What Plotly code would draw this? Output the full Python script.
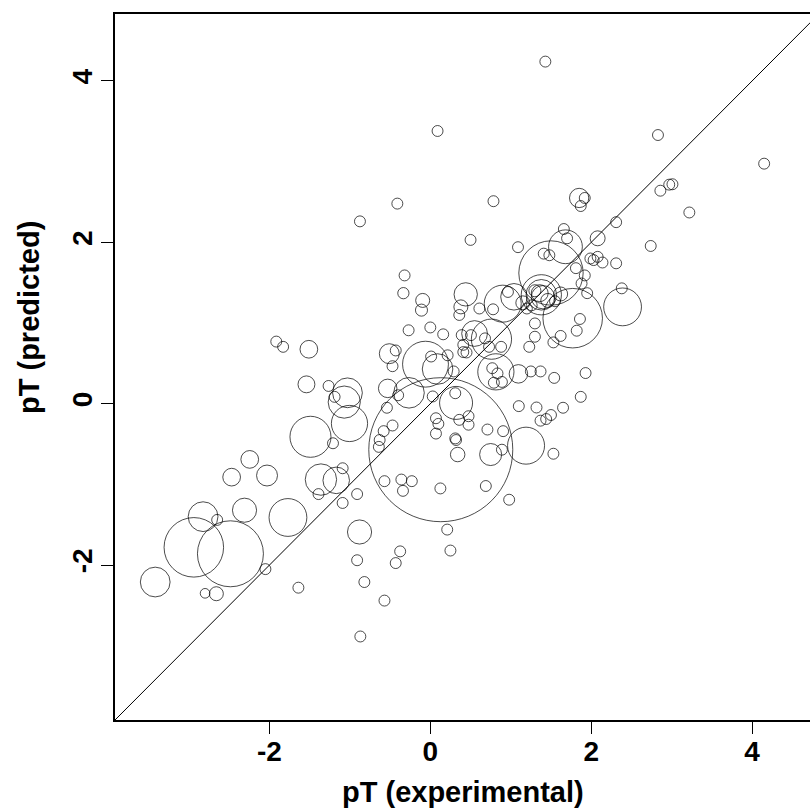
import plotly.graph_objects as go

# pT (experimental), pT (predicted), circle radius (pT units)
pt_exp = [1.43, 0.09, 2.83, 4.15, -0.41, 0.785, 1.85, 1.92, 1.87, 2.86,
          2.97, 3.01, 3.22, 2.31, 1.66, -0.875, 0.50, 1.09, 2.74, 1.68,
          1.70, 2.08, 1.41, 1.48, 1.99, 2.03, 2.08, 2.14, 2.31, 1.92,
          1.88, 1.95, 1.81, 1.50, 1.77, 2.39, 2.38, 1.38, 1.38, 1.40,
          1.36, 1.46, 1.30, 1.04, 0.90, 1.15, 1.20, 1.26, 1.55, 1.62,
          1.30, 1.30, 1.23, 1.62, 1.86, 1.82, 1.53, 1.93, 1.87, 1.54,
          1.25, 1.37, 1.095, 0.815, 0.77, 0.835, 0.79, 0.89, 0.76, 0.73,
          0.88, 0.55, 0.44, 0.38, 0.61, 0.36, 0.39, 0.505, 0.41, 0.45,
          0.78, -0.32, -0.335, -0.095, -0.11, -0.27, 0.0, 0.16, 0.965, -0.06,
          0.09, 0.32, -0.265, -0.51, -0.43, -0.47, -0.53, -0.54, 0.03, 0.31,
          0.41, 0.01, 0.215, 0.29, 0.68, 1.10, 1.32, 1.65, 1.37, 1.44,
          1.50, 0.71, 0.905, 0.75, 1.19, 0.89, 1.53, 0.69, 0.98, 0.31,
          0.32, 0.34, 0.07, 0.10, 0.07, 0.125, -0.57, -0.36, -0.23, -0.34,
          0.21, 0.25, -0.375, -0.43, -0.57, 0.36, 0.475, 0.475, -0.47, -0.58,
          -0.63, -0.64, -0.40, 0.13, -0.87, -0.82, -0.91, -0.88, -0.91, -1.09,
          -1.09, -1.21, -1.005, -1.03, -1.07, -1.19, -1.265, -1.54, -1.51, -1.915,
          -1.83, -1.49, -1.36, -1.17, -1.39, -1.77, -2.03, -2.245, -2.47, -2.31,
          -2.825, -2.94, -2.485, -2.65, -3.42, -2.66, -2.80, -2.05, -1.64]

pt_pred = [4.24, 3.38, 3.33, 2.975, 2.48, 2.51, 2.55, 2.55, 2.45, 2.64,
           2.715, 2.72, 2.37, 2.25, 2.165, 2.26, 2.03, 1.94, 1.955, 1.945,
           2.05, 2.05, 1.86, 1.84, 1.80, 1.78, 1.82, 1.75, 1.74, 1.59,
           1.49, 1.37, 1.68, 1.62, 1.06, 1.20, 1.43, 1.35, 1.35, 1.32,
           1.37, 1.28, 1.40, 1.325, 1.24, 1.25, 1.18, 1.22, 1.27, 1.36,
           0.995, 0.83, 0.705, 0.84, 1.05, 0.905, 0.76, 0.38, 0.085, 0.32,
           0.40, 0.40, 0.37, 0.395, 0.44, 0.375, 0.26, 0.27, 0.80, 0.705,
           0.705, 0.87, 1.355, 1.20, 1.18, 1.10, 0.85, 0.85, 0.64, 0.635,
           1.17, 1.59, 1.37, 1.28, 1.16, 0.91, 0.945, 0.86, 1.385, 0.49,
           0.43, 0.01, 0.135, 0.62, 0.66, 0.465, 0.19, -0.05, 0.09, 0.13,
           0.73, 0.585, 0.60, 0.40, 0.81, -0.03, -0.047, -0.05, -0.21, -0.19,
           -0.14, -0.32, -0.34, -0.63, -0.52, -0.57, -0.62, -1.02, -1.19, -0.43,
           -0.45, -0.63, -0.18, -0.25, -0.37, -1.05, -0.96, -0.94, -0.96, -1.08,
           -1.56, -1.82, -1.83, -1.975, -2.44, -0.20, -0.155, -0.26, -0.27, -0.34,
           -0.45, -0.535, 0.105, -0.57, -2.885, -2.21, -1.94, -1.59, -1.12, -1.23,
           -0.80, -0.49, -0.245, 0.135, 0.02, 0.085, 0.22, 0.24, 0.675, 0.77,
           0.705, -0.41, -0.94, -0.95, -1.12, -1.41, -0.89, -0.69, -0.91, -1.32,
           -1.40, -1.78, -1.86, -1.44, -2.21, -2.355, -2.35, -2.05, -2.28]

circle_r = [.068, .068, .068, .068, .068, .068, .12, .068, .068, .068,
            .068, .068, .068, .068, .068, .068, .068, .068, .068, .21,
            .068, .093, .068, .068, .068, .068, .068, .068, .068, .068,
            .068, .068, .068, .40, .37, .235, .068, .25, .19, .145,
            .105, .087, .075, .165, .23, .087, .068, .068, .068, .087,
            .068, .068, .068, .068, .068, .068, .068, .068, .068, .068,
            .068, .068, .115, .225, .068, .068, .068, .068, .25, .068,
            .068, .16, .145, .087, .068, .068, .068, .068, .068, .068,
            .068, .068, .07, .087, .075, .068, .068, .068, .068, .285,
            .19, .205, .19, .124, .068, .068, .115, .068, .068, .068,
            .068, .068, .068, .068, .068, .068, .068, .068, .068, .068,
            .068, .068, .068, .137, .23, .068, .068, .068, .068, .068,
            .068, .09, .068, .068, .068, .068, .068, .068, .068, .068,
            .068, .068, .068, .068, .068, .068, .068, .068, .068, .068,
            .068, .068, .068, .895, .068, .068, .068, .15, .068, .068,
            .068, .068, .225, .185, .20, .068, .068, .105, .11, .068,
            .068, .255, .195, .165, .068, .235, .13, .11, .11, .15,
            .185, .37, .41, .068, .185, .087, .06, .068, .068]

x_ticks = [-2, 0, 2, 4]
y_ticks = [-2, 0, 2, 4]
x_range = [-3.92, 4.72]
y_range = [-3.92, 4.83]
identity_line = [-3.92, 4.9]

W, H = 810, 809
ML, MR, MT, MB = 115, 0, 14, 89
px_per_unit = (W - ML - MR) / (x_range[1] - x_range[0])
sizes = [2 * r * px_per_unit for r in circle_r]

FONT = "Liberation Sans, Arial, sans-serif"

fig = go.Figure()
fig.add_trace(go.Scatter(
    x=identity_line, y=identity_line, mode="lines",
    line=dict(color="black", width=1), hoverinfo="skip", showlegend=False))
fig.add_trace(go.Scatter(
    x=pt_exp, y=pt_pred, mode="markers",
    marker=dict(symbol="circle-open", size=sizes, color="black",
                line=dict(width=1, color="black")),
    showlegend=False))

fig.update_layout(
    width=W, height=H,
    margin=dict(l=ML, r=MR, t=MT, b=MB, pad=0),
    paper_bgcolor="white", plot_bgcolor="white",
    font=dict(family=FONT, color="black"),
    xaxis=dict(range=x_range, tickvals=x_ticks, ticktext=[str(v) for v in x_ticks],
               showgrid=False, zeroline=False, showline=True, linecolor="black",
               linewidth=1.5, mirror=True, ticks="outside", ticklen=12,
               tickwidth=1, tickcolor="black", ticklabelstandoff=-6,
               tickfont=dict(size=28, family=FONT, weight="bold")),
    yaxis=dict(range=y_range, tickvals=y_ticks, ticktext=[str(v) for v in y_ticks],
               showgrid=False, zeroline=False, showline=True, linecolor="black",
               linewidth=1.5, mirror=False, ticks="outside", ticklen=12,
               tickwidth=1, tickcolor="black", tickangle=-90, ticklabelstandoff=-2,
               tickfont=dict(size=28, family=FONT, weight="bold")),
    annotations=[
        dict(text="<b>pT (experimental)</b>", xref="paper", yref="paper",
             x=(463 - ML) / (W - ML), y=-(792 - (H - MB)) / (H - MT - MB),
             showarrow=False, xanchor="center", yanchor="middle",
             font=dict(size=29, family=FONT, color="black")),
        dict(text="<b>pT (predicted)</b>", xref="paper", yref="paper",
             x=-(ML - 29) / (W - ML), y=(H - MB - 318) / (H - MT - MB),
             showarrow=False, xanchor="center", yanchor="middle", textangle=-90,
             font=dict(size=29, family=FONT, color="black")),
    ],
)

fig.write_html("out.html", config={"displayModeBar": False},
               post_script="document.body.style.margin='0';document.body.style.overflow='hidden';")
